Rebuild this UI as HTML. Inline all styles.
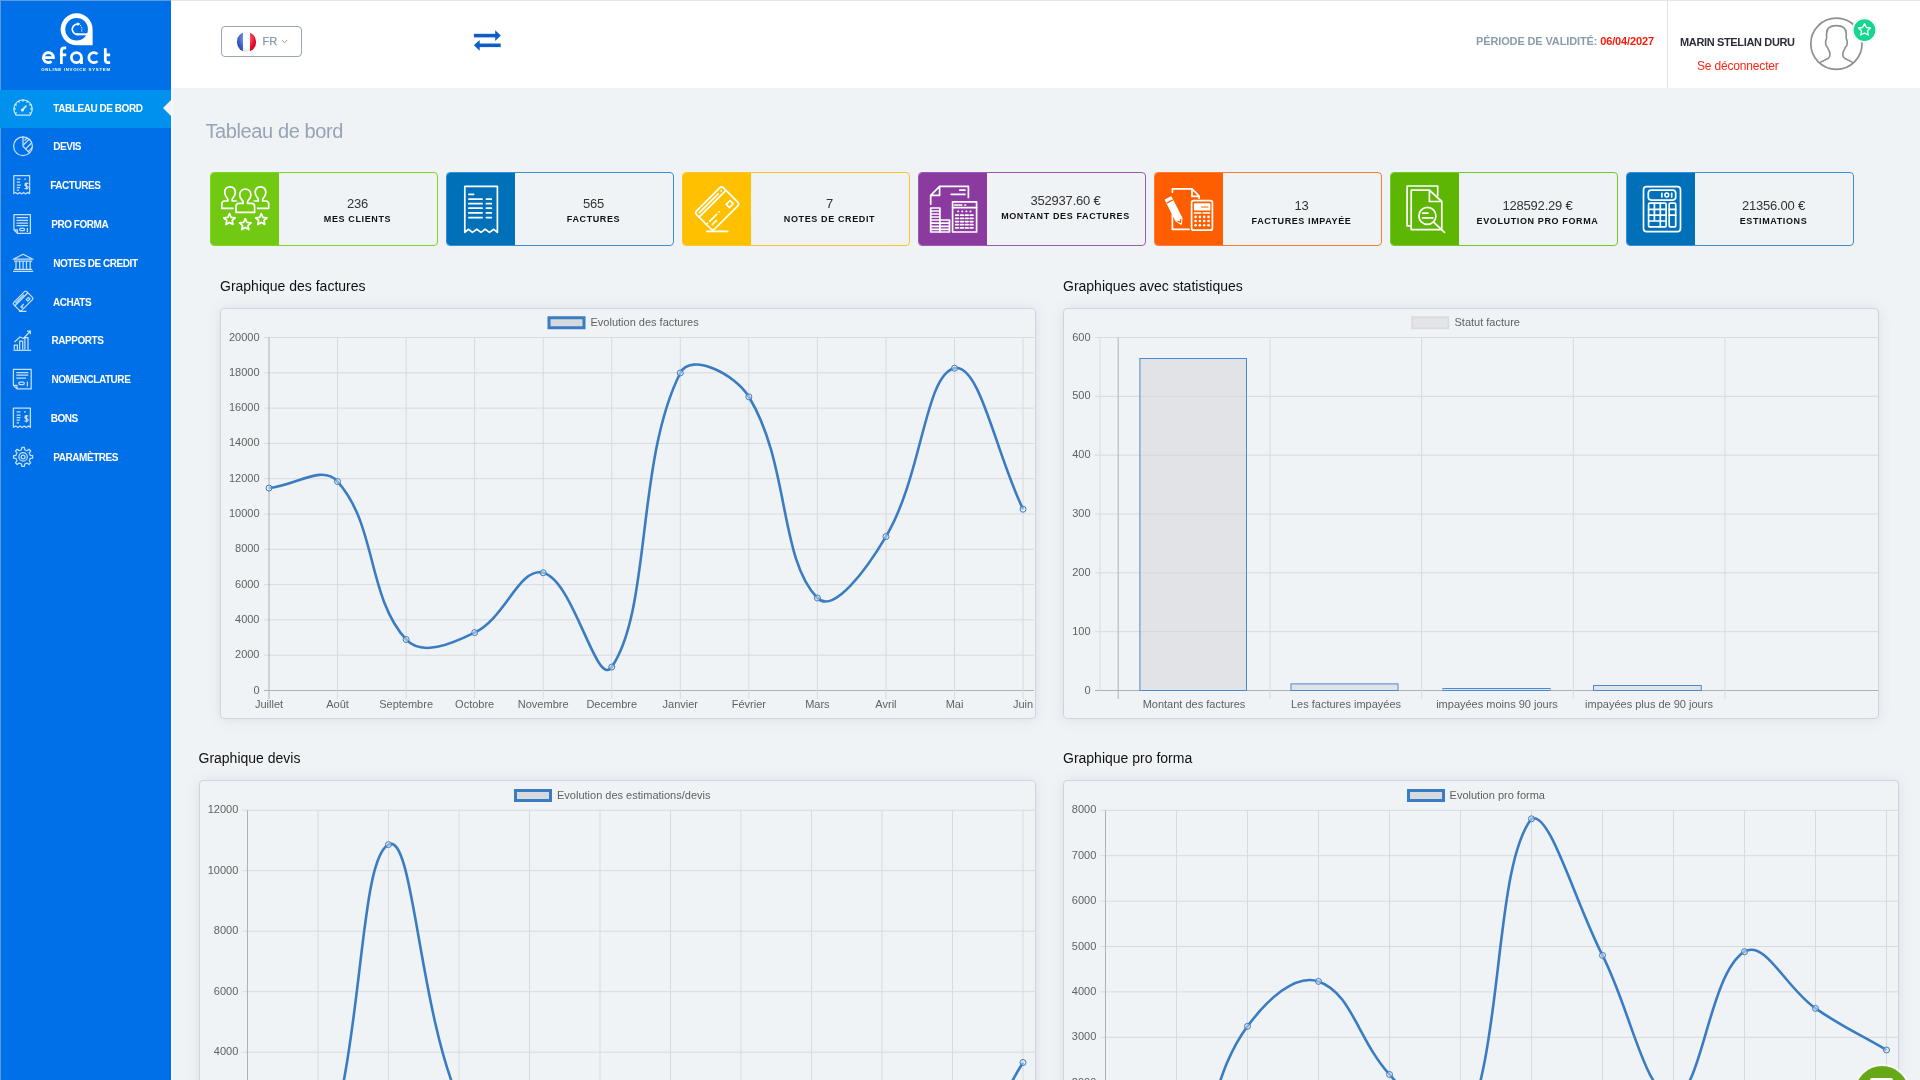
<!DOCTYPE html>
<html><head><meta charset="utf-8"><title>efact - Tableau de bord</title>
<style>
*{box-sizing:border-box}
html,body{margin:0;padding:0;width:1920px;height:1080px;overflow:hidden;background:#f0f3f6;font-family:'Liberation Sans', sans-serif}
.side{position:absolute;left:0;top:0;width:171px;height:1080px;background:#0070e8}
.sep{position:absolute;left:171px;top:88px;width:2px;height:992px;background:linear-gradient(90deg,#fbfcfd,#f3f5f8)}
.act{position:absolute;left:0;top:90px;width:171px;height:38px;background:#0091ee}
.arrow{position:absolute;left:163px;top:100px;width:0;height:0;border-top:8px solid transparent;border-bottom:8px solid transparent;border-right:8px solid #f0f3f6}
.mi{position:absolute;color:#fff;font-weight:bold;font-size:10px;line-height:12px;letter-spacing:-0.45px;white-space:nowrap}
.ic{position:absolute}
.hdr{position:absolute;left:171px;top:0;width:1749px;height:88px;background:#fff;border-top:1px solid #e6e6e6}
.vdiv{position:absolute;left:1667px;top:0;width:1px;height:88px;background:#e2e2e2}
.lang{position:absolute;left:221px;top:25.6px;width:81px;height:31.4px;border:1px solid #9aa6b2;border-radius:4px;background:#fff}
.title{position:absolute;left:205.5px;top:118.6px;font-size:20px;line-height:24px;color:#98a3b3;letter-spacing:-0.4px;white-space:nowrap}
.card{position:absolute;top:172px;width:228px;height:74px;border:1px solid;border-radius:4px;overflow:hidden;background:#f0f3f6}
.cic{position:absolute;left:-1px;top:-1px;width:69px;height:74px}
.cic svg{position:absolute;left:0;top:0}
.ctx{position:absolute;left:67px;right:0;top:0;bottom:0;text-align:center}
.num{position:absolute;left:0;right:0;font-size:13px;line-height:15px;color:#333;letter-spacing:-0.2px;white-space:nowrap}
.lab{position:absolute;left:0;right:0;font-size:9px;line-height:12px;font-weight:bold;color:#111;letter-spacing:0.62px;white-space:nowrap}
.h2{position:absolute;font-size:14px;line-height:16px;color:#111;white-space:nowrap}
.box{position:absolute;border:1px solid #cdd5e0;border-radius:4px;background:#f0f3f6;box-shadow:0 1px 14px rgba(40,60,90,0.10)}
.ov{position:absolute;left:0;top:0}
</style></head><body>
<div style="position:absolute;left:0;top:0;width:1920px;height:1080px;overflow:hidden;will-change:transform">
<div class="side"></div>
<div style="position:absolute;left:0;top:0;width:171px;height:1px;background:#5a9be0"></div>
<div style="position:absolute;left:0;top:0;width:1px;height:1080px;background:#5a9be0"></div>
<div class="act"></div>
<div class="arrow"></div>
<div class="sep"></div>
<svg class="ic" style="left:0;top:0" width="171" height="480" viewBox="0 0 171 480"><path d="M60.6 29.2 A16 16 0 0 1 92.6 29.2 V45.2 H76.6 A16 16 0 0 1 60.6 29.2 Z" fill="#fff"/>
<circle cx="76.6" cy="29.3" r="11.3" fill="#0070e8"/>
<rect x="76.5" y="33.3" width="12" height="2" fill="#fff"/>
<path d="M78.6 34.2 A5.1 5.1 0 1 1 78 24.2" fill="none" stroke="#fff" stroke-width="1.7"/>
<path d="M77.4 22.2 L80.4 24.1 L77.4 26.1 Z" fill="#fff"/>
<g fill="#fff"><circle cx="80.6" cy="25.6" r="0.55"/><circle cx="81.6" cy="27.3" r="0.55"/><circle cx="82" cy="29.1" r="0.55"/><circle cx="81.7" cy="30.9" r="0.55"/></g>
<g fill="none" stroke="#fff" stroke-width="2.75">
<path d="M43.4 57.6 H53.4 A5 5 0 1 0 51.6 61.4"/>
<path d="M61.4 64 V51 Q61.4 47.9 64.5 47.9 H66.2 M59.9 54.9 H66.2"/>
<circle cx="76.4" cy="57.6" r="5"/>
<path d="M81.5 57.6 V64"/>
<path d="M97.4 54.1 A5 5 0 1 0 97.4 61.1"/>
<path d="M105.3 48.2 V59.8 Q105.3 62.6 108.1 62.6 H110.1 M103.9 54.9 H110.1"/>
</g>
<text x="41.2" y="71" font-family="Liberation Sans" font-weight="bold" font-size="4.3" fill="#fff" textLength="68.8" lengthAdjust="spacing">ONLINE INVOICE SYSTEM</text><g stroke="rgba(255,255,255,0.78)" stroke-width="1.25" fill="none" stroke-linejoin="round">
<path d="M16.1 115.05 A9.2 9.2 0 1 1 30.0 115.05 Z"/>
<path d="M13.85 108.85 L15.85 108.85 M15.08 104.25 L16.81 105.25 M18.45 100.88 L19.45 102.61 M23.05 99.65 L23.05 101.65 M27.65 100.88 L26.65 102.61 M31.02 104.25 L29.29 105.25 M32.25 108.85 L30.25 108.85 M15.08 113.45 L16.81 112.45 M31.02 113.45 L29.29 112.45 "/>
<path d="M22.3 110.2 L25.9 106.2" stroke-width="1.9" stroke-linecap="round"/>
<circle cx="22.4" cy="110.1" r="1.5" fill="rgba(255,255,255,0.78)" stroke="none"/>
<circle cx="23" cy="146.2" r="9.4"/>
<path d="M23 136.8 V146.2 L29.65 152.85"/>
<path d="M24.5 140.5 L27 137.8 M23.6 144.8 L29.3 139 M26 148.6 L31.2 143.2 M28.4 151.6 L32.2 147.6"/>
<path d="M13.8 175.7 H29.6 V193.6 L27.6 192.4 L25.6 193.9 L23.6 192.4 L21.6 193.9 L19.6 192.4 L17.6 193.9 L15.6 192.4 L13.8 193.6 Z"/>
<path d="M16.8 179 H20.5 M24.4 179 H26 M16.8 182.2 H20 M16.8 185 H20.8 M16.8 187.7 H20 M16.8 190.2 H19"/>
<path d="M26.4 182.5 V189.5 M28 184 Q28 183.2 26.6 183.2 Q24.9 183.2 24.9 184.7 Q24.9 186 26.5 186 Q28.1 186 28.1 187.4 Q28.1 188.8 26.4 188.8 Q24.8 188.8 24.8 188"/>
<path d="M13.9 214.7 H30.4 V233.3 H17.4 L13.9 229.8 Z M13.9 229.8 H17.4 V233.3"/>
<path d="M16.5 217.6 H28 M16.5 220.4 H28 M16.5 223 H28 M16.5 225.6 H28"/>
<rect x="19.6" y="228.3" width="5" height="2.4" rx="1.2"/>
<path d="M27.4 228 V232"/>
<path d="M13.2 259.2 L23.1 254.3 L33 259.2 Z M14 261 H32.2 M14 269.4 H32.2 M13 271.4 H33.2"/>
<path d="M16 261.5 V268.8 M19.7 261.5 V268.8 M23.1 261.5 V268.8 M26.5 261.5 V268.8 M30.2 261.5 V268.8"/>
<g transform="translate(23.1 301) rotate(-45)">
<rect x="-9.2" y="-5.6" width="18.4" height="11.2" rx="1.6"/>
<path d="M-9.2 -2.4 H9.2 M-7 -4 H5 M3.2 1.2 h3.2 v2.2 h-3.2 Z M-6.4 2.6 H-1.6 M-6.4 4 h2.4"/>
</g>
<path d="M19 311.4 H26.5"/>
<path d="M13.6 350.3 H31.1"/>
<path d="M14.3 349.6 V345 H17.4 V349.6 M19.6 349.6 V341 H22.7 V349.6 M24.9 349.6 V337.5 H28 V349.6"/>
<path d="M14.5 342 L20 337 L23.5 338.5 L30 331.5"/>
<path d="M27 331.2 L30.4 331 L30.3 334.3"/>
<path d="M13.4 369.3 H31.2 V388.9 H17 L13.4 385.3 Z M13.4 385.3 H17 V388.9"/>
<path d="M16.3 372.5 H28.3 M16.3 375.2 H28.3 M16.3 378 H26"/>
<rect x="18.8" y="382" width="5.5" height="2.6" rx="1.3"/>
<path d="M27.4 381.5 V386.5"/>
<path d="M13.4 408.2 H30.4 V427.3 L28.4 426.1 L26.3 427.6 L24.2 426.1 L22.1 427.6 L20 426.1 L17.9 427.6 L15.8 426.1 L13.4 427.3 Z"/>
<path d="M16.6 411.8 H20.5 M24 411.8 H25.8 M16.6 415 H20.5 M16.6 417.6 H20.5 M16.6 420.2 H20 M16.6 422.8 H19"/>
<path d="M26.4 415 V422.5 M28 416.5 Q28 415.7 26.6 415.7 Q24.9 415.7 24.9 417.2 Q24.9 418.5 26.5 418.5 Q28.1 418.5 28.1 419.9 Q28.1 421.3 26.4 421.3 Q24.8 421.3 24.8 420.5"/>
<path d="M30.22 455.31 L32.62 455.66 L32.62 458.14 L30.22 458.49 L29.26 460.81 L30.71 462.75 L28.95 464.51 L27.01 463.06 L24.69 464.02 L24.34 466.42 L21.86 466.42 L21.51 464.02 L19.19 463.06 L17.25 464.51 L15.49 462.75 L16.94 460.81 L15.98 458.49 L13.58 458.14 L13.58 455.66 L15.98 455.31 L16.94 452.99 L15.49 451.05 L17.25 449.29 L19.19 450.74 L21.51 449.78 L21.86 447.38 L24.34 447.38 L24.69 449.78 L27.01 450.74 L28.95 449.29 L30.71 451.05 L29.26 452.99 Z"/>
<circle cx="23.1" cy="456.9" r="4.2"/>
<circle cx="23.1" cy="456.9" r="1.9"/>
</g></svg>
<div class="mi" style="left:53.3px;top:102.5px">TABLEAU DE BORD</div>
<div class="mi" style="left:53.3px;top:141.3px">DEVIS</div>
<div class="mi" style="left:50.2px;top:180.1px">FACTURES</div>
<div class="mi" style="left:51.2px;top:218.9px">PRO FORMA</div>
<div class="mi" style="left:53.2px;top:257.7px">NOTES DE CREDIT</div>
<div class="mi" style="left:52.9px;top:296.5px">ACHATS</div>
<div class="mi" style="left:51.5px;top:335.3px">RAPPORTS</div>
<div class="mi" style="left:51.5px;top:374.1px">NOMENCLATURE</div>
<div class="mi" style="left:50.7px;top:412.9px">BONS</div>
<div class="mi" style="left:53.3px;top:451.7px">PARAMÈTRES</div>

<div class="hdr"></div>
<div class="vdiv"></div>
<div class="lang">
 <div style="position:absolute;left:14.5px;top:5.5px;width:19.6px;height:19.6px;border-radius:50%;overflow:hidden;background:linear-gradient(90deg,#2a49b8 0,#3f64d6 33.5%,#fdfdfd 33.5%,#fff 66%,#ff1030 66%,#d0001c 100%)">
  <div style="position:absolute;inset:0;border-radius:50%;background:radial-gradient(circle at 50% 30%,rgba(255,255,255,0.45) 0,rgba(255,255,255,0.1) 45%,rgba(0,0,0,0) 60%,rgba(0,0,0,0.22) 100%)"></div>
 </div>
 <div style="position:absolute;left:40.5px;top:8.3px;font-size:11px;line-height:12px;color:#8797a5;-webkit-text-stroke:0.25px #8797a5">FR</div>
 <svg style="position:absolute;left:58.5px;top:12.5px" width="7" height="5" viewBox="0 0 7 5"><path d="M0.8 1 L3.5 3.7 L6.2 1" fill="none" stroke="#8a96a3" stroke-width="1"/></svg>
</div>
<svg class="ic" style="left:472px;top:28px" width="32" height="26" viewBox="0 0 32 26">
 <path d="M1.9 7.6 H24" stroke="#0d5fc7" stroke-width="3.6"/><path d="M23.2 2.2 L28.8 7.6 L23.2 13 Z" fill="#0d5fc7"/>
 <path d="M28.7 17.3 H7" stroke="#0d5fc7" stroke-width="3.6"/><path d="M7.7 11.9 L1.9 17.3 L7.7 22.7 Z" fill="#0d5fc7"/>
</svg>
<div style="position:absolute;left:1476px;top:35px;font-size:11px;line-height:12px;font-weight:bold;letter-spacing:-0.13px;white-space:nowrap;color:#8b9caa">PÉRIODE DE VALIDITÉ: <span style="color:#ff1a0a">06/04/2027</span></div>
<div style="position:absolute;left:1680px;top:35.6px;font-size:11px;line-height:12px;font-weight:bold;letter-spacing:-0.35px;white-space:nowrap;color:#2b2e3a">MARIN STELIAN DURU</div>
<div style="position:absolute;left:1697px;top:58.5px;font-size:12px;line-height:14px;letter-spacing:-0.17px;white-space:nowrap;color:#ff2414">Se déconnecter</div>
<svg class="ic" style="left:1800px;top:8px" width="90" height="72" viewBox="0 0 90 72"><circle cx="36.4" cy="35.7" r="25.6" fill="#fff" stroke="#8e8e8e" stroke-width="1.7"/>
<path d="M19.8 54.6 L28.3 50.2 Q29.9 49.3 29.9 47.3 V45.2 Q29.9 44.2 29.1 43 L27.6 39.6 Q26.9 38.3 26 37.6 Q25.6 36.5 25.6 34.2 Q25.6 31.6 26.6 30.6 V25.5 Q26.6 17.6 36.4 17.6 Q46.2 17.6 46.2 25.5 V30.6 Q47.2 31.6 47.2 34.2 Q47.2 36.5 46.8 37.6 Q45.9 38.3 45.2 39.6 L43.7 43 Q42.9 44.2 42.9 45.2 V47.3 Q42.9 49.3 44.5 50.2 L53 54.6" fill="none" stroke="#8e8e8e" stroke-width="1.6" stroke-linejoin="round"/>
<circle cx="64.5" cy="22.1" r="12.4" fill="#fff" stroke="#f0f0f3" stroke-width="0.8"/>
<circle cx="64.5" cy="22.1" r="10.9" fill="#14d68f"/>
<path d="M64.5 15.6 L66.4 19.5 L70.5 20 L67.5 22.9 L68.3 27 L64.5 25 L60.7 27 L61.5 22.9 L58.5 20 L62.6 19.5 Z" fill="none" stroke="#fff" stroke-width="1.3" stroke-linejoin="round"/></svg>
<div class="title">Tableau de bord</div>
<div class="card" style="left:210px;border-color:#7fd321">
<div class="cic" style="background:#72c912"><svg width="68" height="74" viewBox="0 0 68 74"><g stroke="#fff" stroke-width="1.7" fill="none" stroke-linecap="round" stroke-linejoin="round">
<path d="M17.8 29.0 V27.3 C17.8 26.1 14.7 24.3 14.7 20.6 C14.7 16.6 17.2 14.8 20 14.8 C22.8 14.8 25.3 16.6 25.3 20.6 C25.3 24.3 22.2 26.1 22.2 27.3 V29.0 H25.2 Q28.2 29.0 28.2 32.0 V36.3 H11.8 V32.0 Q11.8 29.0 14.8 29.0 Z"/>
<path d="M48.3 29.0 V27.3 C48.3 26.1 45.2 24.3 45.2 20.6 C45.2 16.6 47.7 14.8 50.5 14.8 C53.3 14.8 55.8 16.6 55.8 20.6 C55.8 24.3 52.7 26.1 52.7 27.3 V29.0 H55.7 Q58.7 29.0 58.7 32.0 V36.3 H42.3 V32.0 Q42.3 29.0 45.3 29.0 Z"/>
<path d="M33.099999999999994 31.4 V29.7 C33.099999999999994 28.5 29.699999999999996 26.7 29.699999999999996 23.0 C29.699999999999996 19.0 32.5 17.2 35.3 17.2 C38.099999999999994 17.2 40.9 19.0 40.9 23.0 C40.9 26.7 37.5 28.5 37.5 29.7 V31.4 H41.599999999999994 Q44.599999999999994 31.4 44.599999999999994 34.4 V40.4 H25.999999999999996 V34.4 Q25.999999999999996 31.4 28.999999999999996 31.4 Z" stroke="#72c912" stroke-width="4.6" fill="#72c912"/>
<path d="M33.099999999999994 31.4 V29.7 C33.099999999999994 28.5 29.699999999999996 26.7 29.699999999999996 23.0 C29.699999999999996 19.0 32.5 17.2 35.3 17.2 C38.099999999999994 17.2 40.9 19.0 40.9 23.0 C40.9 26.7 37.5 28.5 37.5 29.7 V31.4 H41.599999999999994 Q44.599999999999994 31.4 44.599999999999994 34.4 V40.4 H25.999999999999996 V34.4 Q25.999999999999996 31.4 28.999999999999996 31.4 Z"/>
<path d="M19.50 41.60 L21.15 45.33 L25.21 45.75 L22.16 48.47 L23.03 52.45 L19.50 50.40 L15.97 52.45 L16.84 48.47 L13.79 45.75 L17.85 45.33 Z"/>
<path d="M35.30 46.70 L36.95 50.43 L41.01 50.85 L37.96 53.57 L38.83 57.55 L35.30 55.50 L31.77 57.55 L32.64 53.57 L29.59 50.85 L33.65 50.43 Z"/>
<path d="M51.30 41.60 L52.95 45.33 L57.01 45.75 L53.96 48.47 L54.83 52.45 L51.30 50.40 L47.77 52.45 L48.64 48.47 L45.59 45.75 L49.65 45.33 Z"/>
</g></svg></div>
<div class="ctx"><div class="num" style="top:22.5px">236</div><div class="lab" style="top:39.5px">MES CLIENTS</div></div></div>
<div class="card" style="left:446px;border-color:#3a8fd4">
<div class="cic" style="background:#0071b8"><svg width="68" height="74" viewBox="0 0 68 74"><g stroke="#fff" stroke-width="1.7" fill="none" stroke-linecap="round" stroke-linejoin="round" stroke-width="1.9">
<path d="M18.8 60.4 V14.3 H51.4 V60.4 L47.8 57.3 L43.5 60.4 L39.2 57.3 L35 60.4 L30.8 57.3 L26.5 60.4 L22.3 57.3 Z" stroke-linecap="butt"/>
<path d="M22.9 22.3 H27.6 M22.9 27.1 H36.1 M22.9 31.7 H36.1 M22.9 36.2 H36.1 M22.9 40.9 H36.1 M22.9 45.6 H36.1 M40.4 27.1 H45.3 M40.4 31.7 H45.3 M40.4 36.2 H45.3 M40.4 40.9 H45.3 M40.4 45.6 H45.3"/>
</g></svg></div>
<div class="ctx"><div class="num" style="top:22.5px">565</div><div class="lab" style="top:39.5px">FACTURES</div></div></div>
<div class="card" style="left:682px;border-color:#fcc52a">
<div class="cic" style="background:#ffc000"><svg width="68" height="74" viewBox="0 0 68 74"><g stroke="#fff" stroke-width="1.7" fill="none" stroke-linecap="round" stroke-linejoin="round">
<g transform="translate(35.2 36.4) rotate(-45)">
<rect x="-19" y="-12.8" width="38" height="25.6" rx="3"/>
<path d="M-18.6 -6.6 H18.6 M-15.5 -9.6 H11 M15.2 -9.6 h0.1 M-14.2 3.8 H-4.5 M-17.6 3.8 h0.1 M-1.2 3.8 h0.1 M-14.8 8 H-9.4"/>
<rect x="9.2" y="3.6" width="5.4" height="4.4"/>
</g>
<path d="M24.8 59.4 H45.6"/>
</g></svg></div>
<div class="ctx"><div class="num" style="top:22.5px">7</div><div class="lab" style="top:39.5px">NOTES DE CREDIT</div></div></div>
<div class="card" style="left:918px;border-color:#9b59b6">
<div class="cic" style="background:#8b3aa0"><svg width="68" height="74" viewBox="0 0 68 74"><g stroke="#fff" stroke-width="1.7" fill="none" stroke-linecap="round" stroke-linejoin="round" stroke-width="1.6">
<path d="M12.7 32.2 V23.3 L21.6 14.4 H50.4 V25.4 M21.6 14.4 V23.3 H12.7"/>
<path d="M41.8 18.2 H47 M33.2 22.3 H47"/>
<path d="M12.7 36 H21.9 V60 H12.7 Z M12.7 39 H21.9 M12.7 42 H21.9 M12.7 45 H21.9 M12.7 48 H21.9 M12.7 51.2 H21.9 M12.7 54.4 H21.9 M12.7 57.3 H21.9"/>
<path d="M21.9 48 H31.5 V60 H21.9 M21.9 51.2 H31.5 M21.9 54.4 H31.5 M21.9 57.3 H31.5"/>
<rect x="34.6" y="29.8" width="24" height="30.2"/>
<path d="M34.6 35.6 H58.6 M36.6 33 H43.8 M47 33 h0.6"/>
<path d="M40 39.4 h0.4 M44.1 39.4 h0.4 M48.2 39.4 h0.4 M52.3 39.4 h0.4"/>
<path d="M37.7 43.2 h2.7 M42.6 43.2 h2.7 M47.4 43.2 h2.7 M52.2 43.2 h2.7 M37.7 46.4 h2.7 M42.6 46.4 h2.7 M47.4 46.4 h2.7 M52.2 46.4 h2.7 M37.7 49.6 h2.7 M42.6 49.6 h2.7 M47.4 49.6 h2.7 M52.2 49.6 h2.7 M37.7 52.7 h2.7 M42.6 52.7 h2.7 M47.4 52.7 h2.7 M52.2 52.7 h2.7 M37.7 55.9 h2.7 M42.6 55.9 h2.7 M47.4 55.9 h2.7 M52.2 55.9 h2.7"/>
</g></svg></div>
<div class="ctx"><div class="num" style="top:20px">352937.60 €</div><div class="lab" style="top:37.1px">MONTANT DES FACTURES</div></div></div>
<div class="card" style="left:1154px;border-color:#ff7a33">
<div class="cic" style="background:#ff5e00"><svg width="68" height="74" viewBox="0 0 68 74"><g stroke="#fff" stroke-width="1.7" fill="none" stroke-linecap="round" stroke-linejoin="round" stroke-width="1.7">
<path d="M18.4 20.2 V16.8 H38 L45.2 24 V26.2 M38 16.8 V24.4 H45.2"/>
<path d="M18.4 42.8 V57.4 H35"/>
<g transform="translate(20.4 38.6) rotate(-27)">
<path d="M-3 -13.5 H3 V10 L0 15 L-3 10 Z" fill="#fff"/>
<path d="M-3 -10.2 H3" stroke="#ff5e00" stroke-width="1.2"/>
<path d="M-1.6 11 L0 13.2 L1.6 11" stroke="#ff5e00" stroke-width="1.2"/>
</g>
<rect x="37.6" y="28.6" width="20.8" height="29.6" rx="2"/>
<rect x="40.8" y="32.2" width="14.7" height="5.5" fill="#fff"/>
<path d="M47.5 35 h6.5" stroke="#ff5e00" stroke-width="1.2" stroke-dasharray="1.2 0.7"/>
<path d="M40.6 41 H46.8 M49.2 41 H55.4"/>
<g fill="#fff" stroke="none">
<circle cx="41.6" cy="44.9" r="1.3"/><circle cx="45.9" cy="44.9" r="1.3"/><circle cx="50.2" cy="44.9" r="1.3"/><circle cx="54.5" cy="44.9" r="1.3"/>
<circle cx="41.6" cy="49" r="1.3"/><circle cx="45.9" cy="49" r="1.3"/><circle cx="50.2" cy="49" r="1.3"/><circle cx="54.5" cy="49" r="1.3"/>
<circle cx="41.6" cy="53.3" r="1.3"/><circle cx="45.9" cy="53.3" r="1.3"/><circle cx="50.2" cy="53.3" r="1.3"/><circle cx="54.5" cy="53.3" r="1.3"/>
</g>
</g></svg></div>
<div class="ctx"><div class="num" style="top:24.8px">13</div><div class="lab" style="top:41.9px">FACTURES IMPAYÉE</div></div></div>
<div class="card" style="left:1390px;border-color:#74c82a">
<div class="cic" style="background:#5db604"><svg width="68" height="74" viewBox="0 0 68 74"><g stroke="#fff" stroke-width="1.7" fill="none" stroke-linecap="round" stroke-linejoin="round" stroke-width="1.6" stroke-linecap="butt" stroke-linejoin="miter">
<path d="M20.6 53.9 H17.1 V14 H47.7 V23.6"/>
<path d="M21.2 18.1 H39.4 L51.8 29.5 V57.6 H21.2 Z M39.4 18.1 V29.5 H51.8"/>
<circle cx="37.4" cy="43.9" r="8.5"/>
<path d="M32.6 41.1 H38 M32.6 45.9 H42.8"/>
<path d="M43.6 50.2 L54.5 60.3" stroke-linecap="round"/>
</g></svg></div>
<div class="ctx"><div class="num" style="top:25px">128592.29 €</div><div class="lab" style="top:41.9px">EVOLUTION PRO FORMA</div></div></div>
<div class="card" style="left:1626px;border-color:#3a8fd4">
<div class="cic" style="background:#0071b8"><svg width="68" height="74" viewBox="0 0 68 74"><g stroke="#fff" stroke-width="1.7" fill="none" stroke-linecap="round" stroke-linejoin="round" stroke-width="1.5">
<rect x="17.5" y="14.7" width="37" height="44.9" rx="3.2"/>
<rect x="22.3" y="18.2" width="27.4" height="9.9" rx="3"/>
<path d="M35.9 21.2 V25.1 M45.7 21.2 V25.1" stroke-width="1.6"/>
<ellipse cx="40.8" cy="23.1" rx="1.9" ry="2" stroke-width="1.5"/>
<rect x="22.6" y="31.2" width="17.5" height="23.6" rx="1"/>
<path d="M22.6 37.3 H40.1 M22.6 43.2 H40.1 M22.6 49 H40.1 M28.4 31.2 V49 M34.3 31.2 V54.8"/>
<rect x="43.2" y="31.2" width="6.5" height="23.6" rx="1"/>
<path d="M43.2 37.3 H49.7 M43.2 43.2 H49.7"/>
</g></svg></div>
<div class="ctx"><div class="num" style="top:25px">21356.00 €</div><div class="lab" style="top:41.9px">ESTIMATIONS</div></div></div>

<div class="h2" style="left:220px;top:278px">Graphique des factures</div>
<div class="h2" style="left:1063px;top:278px">Graphiques avec statistiques</div>
<div class="h2" style="left:198.5px;top:750px">Graphique devis</div>
<div class="h2" style="left:1063px;top:750px">Graphique pro forma</div>
<div class="box" style="left:220px;top:308px;width:815.5px;height:410.5px"></div>
<div class="box" style="left:1063px;top:308px;width:815.5px;height:410.5px"></div>
<div class="box" style="left:198.5px;top:780px;width:837px;height:410px"></div>
<div class="box" style="left:1062.8px;top:780px;width:836.5px;height:410px"></div>
<svg class="ov" width="1920" height="1080" viewBox="0 0 1920 1080" font-family="'Liberation Sans', sans-serif">
<line x1="264" y1="690.5" x2="1034" y2="690.5" stroke="#adb0b4" stroke-width="1"/>
<text x="259.5" y="693.5" text-anchor="end" font-size="11" fill="#616161">0</text>
<line x1="264" y1="655.2" x2="1034" y2="655.2" stroke="#d7dade" stroke-width="1"/>
<text x="259.5" y="658.2" text-anchor="end" font-size="11" fill="#616161">2000</text>
<line x1="264" y1="619.9" x2="1034" y2="619.9" stroke="#d7dade" stroke-width="1"/>
<text x="259.5" y="622.9" text-anchor="end" font-size="11" fill="#616161">4000</text>
<line x1="264" y1="584.6" x2="1034" y2="584.6" stroke="#d7dade" stroke-width="1"/>
<text x="259.5" y="587.6" text-anchor="end" font-size="11" fill="#616161">6000</text>
<line x1="264" y1="549.3" x2="1034" y2="549.3" stroke="#d7dade" stroke-width="1"/>
<text x="259.5" y="552.3" text-anchor="end" font-size="11" fill="#616161">8000</text>
<line x1="264" y1="514.0" x2="1034" y2="514.0" stroke="#d7dade" stroke-width="1"/>
<text x="259.5" y="517.0" text-anchor="end" font-size="11" fill="#616161">10000</text>
<line x1="264" y1="478.70000000000005" x2="1034" y2="478.70000000000005" stroke="#d7dade" stroke-width="1"/>
<text x="259.5" y="481.70000000000005" text-anchor="end" font-size="11" fill="#616161">12000</text>
<line x1="264" y1="443.40000000000003" x2="1034" y2="443.40000000000003" stroke="#d7dade" stroke-width="1"/>
<text x="259.5" y="446.40000000000003" text-anchor="end" font-size="11" fill="#616161">14000</text>
<line x1="264" y1="408.1" x2="1034" y2="408.1" stroke="#d7dade" stroke-width="1"/>
<text x="259.5" y="411.1" text-anchor="end" font-size="11" fill="#616161">16000</text>
<line x1="264" y1="372.8" x2="1034" y2="372.8" stroke="#d7dade" stroke-width="1"/>
<text x="259.5" y="375.8" text-anchor="end" font-size="11" fill="#616161">18000</text>
<line x1="264" y1="337.5" x2="1034" y2="337.5" stroke="#d7dade" stroke-width="1"/>
<text x="259.5" y="340.5" text-anchor="end" font-size="11" fill="#616161">20000</text>
<line x1="269.0" y1="337.5" x2="269.0" y2="699.0" stroke="#adb0b4" stroke-width="1"/>
<text x="269.0" y="708" text-anchor="middle" font-size="11" fill="#616161">Juillet</text>
<line x1="337.55" y1="337.5" x2="337.55" y2="699.0" stroke="#d7dade" stroke-width="1"/>
<text x="337.55" y="708" text-anchor="middle" font-size="11" fill="#616161">Août</text>
<line x1="406.1" y1="337.5" x2="406.1" y2="699.0" stroke="#d7dade" stroke-width="1"/>
<text x="406.1" y="708" text-anchor="middle" font-size="11" fill="#616161">Septembre</text>
<line x1="474.65" y1="337.5" x2="474.65" y2="699.0" stroke="#d7dade" stroke-width="1"/>
<text x="474.65" y="708" text-anchor="middle" font-size="11" fill="#616161">Octobre</text>
<line x1="543.2" y1="337.5" x2="543.2" y2="699.0" stroke="#d7dade" stroke-width="1"/>
<text x="543.2" y="708" text-anchor="middle" font-size="11" fill="#616161">Novembre</text>
<line x1="611.75" y1="337.5" x2="611.75" y2="699.0" stroke="#d7dade" stroke-width="1"/>
<text x="611.75" y="708" text-anchor="middle" font-size="11" fill="#616161">Decembre</text>
<line x1="680.3" y1="337.5" x2="680.3" y2="699.0" stroke="#d7dade" stroke-width="1"/>
<text x="680.3" y="708" text-anchor="middle" font-size="11" fill="#616161">Janvier</text>
<line x1="748.8499999999999" y1="337.5" x2="748.8499999999999" y2="699.0" stroke="#d7dade" stroke-width="1"/>
<text x="748.8499999999999" y="708" text-anchor="middle" font-size="11" fill="#616161">Février</text>
<line x1="817.4" y1="337.5" x2="817.4" y2="699.0" stroke="#d7dade" stroke-width="1"/>
<text x="817.4" y="708" text-anchor="middle" font-size="11" fill="#616161">Mars</text>
<line x1="885.9499999999999" y1="337.5" x2="885.9499999999999" y2="699.0" stroke="#d7dade" stroke-width="1"/>
<text x="885.9499999999999" y="708" text-anchor="middle" font-size="11" fill="#616161">Avril</text>
<line x1="954.5" y1="337.5" x2="954.5" y2="699.0" stroke="#d7dade" stroke-width="1"/>
<text x="954.5" y="708" text-anchor="middle" font-size="11" fill="#616161">Mai</text>
<line x1="1023.05" y1="337.5" x2="1023.05" y2="699.0" stroke="#d7dade" stroke-width="1"/>
<text x="1023.05" y="708" text-anchor="middle" font-size="11" fill="#616161">Juin</text>
<path d="M269.00 488.05 C296.42 485.44 321.88 464.22 337.55 481.52 C376.72 524.80 366.93 596.33 406.10 639.49 C421.77 656.76 451.02 644.11 474.65 632.61 C505.86 617.42 519.16 566.74 543.20 572.77 C574.00 580.51 596.48 689.28 611.75 667.03 C651.32 609.36 636.09 460.12 680.30 372.98 C690.93 352.03 734.89 373.89 748.85 396.80 C789.73 463.91 779.13 558.99 817.40 598.01 C833.97 614.91 867.52 567.49 885.95 536.59 C922.36 475.57 925.06 374.09 954.50 368.21 C979.90 363.14 995.63 452.83 1023.05 509.23" fill="none" stroke="#3a7cc2" stroke-width="2.6"/>
<circle cx="269.00" cy="488.05" r="3" fill="rgba(225,230,236,0.5)" stroke="#3a7cc2" stroke-width="1"/>
<circle cx="337.55" cy="481.52" r="3" fill="rgba(225,230,236,0.5)" stroke="#3a7cc2" stroke-width="1"/>
<circle cx="406.10" cy="639.49" r="3" fill="rgba(225,230,236,0.5)" stroke="#3a7cc2" stroke-width="1"/>
<circle cx="474.65" cy="632.61" r="3" fill="rgba(225,230,236,0.5)" stroke="#3a7cc2" stroke-width="1"/>
<circle cx="543.20" cy="572.77" r="3" fill="rgba(225,230,236,0.5)" stroke="#3a7cc2" stroke-width="1"/>
<circle cx="611.75" cy="667.03" r="3" fill="rgba(225,230,236,0.5)" stroke="#3a7cc2" stroke-width="1"/>
<circle cx="680.30" cy="372.98" r="3" fill="rgba(225,230,236,0.5)" stroke="#3a7cc2" stroke-width="1"/>
<circle cx="748.85" cy="396.80" r="3" fill="rgba(225,230,236,0.5)" stroke="#3a7cc2" stroke-width="1"/>
<circle cx="817.40" cy="598.01" r="3" fill="rgba(225,230,236,0.5)" stroke="#3a7cc2" stroke-width="1"/>
<circle cx="885.95" cy="536.59" r="3" fill="rgba(225,230,236,0.5)" stroke="#3a7cc2" stroke-width="1"/>
<circle cx="954.50" cy="368.21" r="3" fill="rgba(225,230,236,0.5)" stroke="#3a7cc2" stroke-width="1"/>
<circle cx="1023.05" cy="509.23" r="3" fill="rgba(225,230,236,0.5)" stroke="#3a7cc2" stroke-width="1"/>
<rect x="549.0" y="317.75" width="35" height="10" fill="#d6d9dd" stroke="#3a7cc2" stroke-width="3"/>
<text x="590.5" y="325.85" text-anchor="start" font-size="11" fill="#616161">Evolution des factures</text>
<line x1="1095" y1="690.5" x2="1878" y2="690.5" stroke="#adb0b4" stroke-width="1"/>
<text x="1090.5" y="693.5" text-anchor="end" font-size="11" fill="#616161">0</text>
<line x1="1095" y1="631.67" x2="1878" y2="631.67" stroke="#d7dade" stroke-width="1"/>
<text x="1090.5" y="634.67" text-anchor="end" font-size="11" fill="#616161">100</text>
<line x1="1095" y1="572.84" x2="1878" y2="572.84" stroke="#d7dade" stroke-width="1"/>
<text x="1090.5" y="575.84" text-anchor="end" font-size="11" fill="#616161">200</text>
<line x1="1095" y1="514.01" x2="1878" y2="514.01" stroke="#d7dade" stroke-width="1"/>
<text x="1090.5" y="517.01" text-anchor="end" font-size="11" fill="#616161">300</text>
<line x1="1095" y1="455.18" x2="1878" y2="455.18" stroke="#d7dade" stroke-width="1"/>
<text x="1090.5" y="458.18" text-anchor="end" font-size="11" fill="#616161">400</text>
<line x1="1095" y1="396.35" x2="1878" y2="396.35" stroke="#d7dade" stroke-width="1"/>
<text x="1090.5" y="399.35" text-anchor="end" font-size="11" fill="#616161">500</text>
<line x1="1095" y1="337.52" x2="1878" y2="337.52" stroke="#d7dade" stroke-width="1"/>
<text x="1090.5" y="340.52" text-anchor="end" font-size="11" fill="#616161">600</text>
<line x1="1100" y1="337.5" x2="1100" y2="690.5" stroke="#d7dade" stroke-width="1"/>
<line x1="1118.2" y1="337.5" x2="1118.2" y2="699" stroke="#adb0b4" stroke-width="1"/>
<line x1="1270" y1="337.5" x2="1270" y2="699" stroke="#d7dade" stroke-width="1"/>
<line x1="1421.7" y1="337.5" x2="1421.7" y2="699" stroke="#d7dade" stroke-width="1"/>
<line x1="1573.3" y1="337.5" x2="1573.3" y2="699" stroke="#d7dade" stroke-width="1"/>
<line x1="1725" y1="337.5" x2="1725" y2="699" stroke="#d7dade" stroke-width="1"/>
<rect x="1139.9" y="358.5" width="106.59999999999991" height="332.0" fill="rgba(212,211,213,0.5)" stroke="#4a8ad0" stroke-width="1"/>
<rect x="1291.0" y="683.9" width="107.0" height="6.600000000000023" fill="rgba(212,211,213,0.5)" stroke="#4a8ad0" stroke-width="1"/>
<rect x="1443.0" y="688.5" width="107.0" height="2.0" fill="rgba(212,211,213,0.5)" stroke="#4a8ad0" stroke-width="1"/>
<rect x="1593.5" y="685.5" width="107.75" height="5.0" fill="rgba(212,211,213,0.5)" stroke="#4a8ad0" stroke-width="1"/>
<text x="1194" y="708" text-anchor="middle" font-size="11" fill="#616161">Montant des factures</text>
<text x="1346" y="708" text-anchor="middle" font-size="11" fill="#616161">Les factures impayées</text>
<text x="1497" y="708" text-anchor="middle" font-size="11" fill="#616161">impayées moins 90 jours</text>
<text x="1649" y="708" text-anchor="middle" font-size="11" fill="#616161">impayées plus de 90 jours</text>
<rect x="1412.25" y="317.25" width="36" height="11" fill="#e5e5e7" stroke="#dcdcde" stroke-width="2"/>
<text x="1454.5" y="325.85" text-anchor="start" font-size="11" fill="#616161">Statut facture</text>
<line x1="242.5" y1="1052.2" x2="1035" y2="1052.2" stroke="#d7dade" stroke-width="1"/>
<text x="238.3" y="1055.2" text-anchor="end" font-size="11" fill="#616161">4000</text>
<line x1="242.5" y1="991.7" x2="1035" y2="991.7" stroke="#d7dade" stroke-width="1"/>
<text x="238.3" y="994.7" text-anchor="end" font-size="11" fill="#616161">6000</text>
<line x1="242.5" y1="931.2" x2="1035" y2="931.2" stroke="#d7dade" stroke-width="1"/>
<text x="238.3" y="934.2" text-anchor="end" font-size="11" fill="#616161">8000</text>
<line x1="242.5" y1="870.7" x2="1035" y2="870.7" stroke="#d7dade" stroke-width="1"/>
<text x="238.3" y="873.7" text-anchor="end" font-size="11" fill="#616161">10000</text>
<line x1="242.5" y1="810.2" x2="1035" y2="810.2" stroke="#d7dade" stroke-width="1"/>
<text x="238.3" y="813.2" text-anchor="end" font-size="11" fill="#616161">12000</text>
<line x1="247.5" y1="810.2" x2="247.5" y2="1181.7" stroke="#adb0b4" stroke-width="1"/>
<line x1="318.0" y1="810.2" x2="318.0" y2="1181.7" stroke="#d7dade" stroke-width="1"/>
<line x1="388.5" y1="810.2" x2="388.5" y2="1181.7" stroke="#d7dade" stroke-width="1"/>
<line x1="459.0" y1="810.2" x2="459.0" y2="1181.7" stroke="#d7dade" stroke-width="1"/>
<line x1="529.5" y1="810.2" x2="529.5" y2="1181.7" stroke="#d7dade" stroke-width="1"/>
<line x1="600.0" y1="810.2" x2="600.0" y2="1181.7" stroke="#d7dade" stroke-width="1"/>
<line x1="670.5" y1="810.2" x2="670.5" y2="1181.7" stroke="#d7dade" stroke-width="1"/>
<line x1="741.0" y1="810.2" x2="741.0" y2="1181.7" stroke="#d7dade" stroke-width="1"/>
<line x1="811.5" y1="810.2" x2="811.5" y2="1181.7" stroke="#d7dade" stroke-width="1"/>
<line x1="882.0" y1="810.2" x2="882.0" y2="1181.7" stroke="#d7dade" stroke-width="1"/>
<line x1="952.5" y1="810.2" x2="952.5" y2="1181.7" stroke="#d7dade" stroke-width="1"/>
<line x1="1023.0" y1="810.2" x2="1023.0" y2="1181.7" stroke="#d7dade" stroke-width="1"/>
<path d="M247.50 1173.20 C275.70 1173.20 308.22 1173.20 318.00 1173.20 C364.62 1064.55 356.99 860.82 388.50 844.59 C413.39 831.78 418.16 1005.43 459.00 1100.60 C474.56 1136.87 496.26 1156.08 529.50 1173.20 C552.66 1173.20 571.80 1173.20 600.00 1173.20 C628.20 1173.20 642.30 1173.20 670.50 1173.20 C698.70 1173.20 712.80 1173.20 741.00 1173.20 C769.20 1173.20 783.30 1173.20 811.50 1173.20 C839.70 1173.20 853.80 1173.20 882.00 1173.20 C910.20 1173.20 932.79 1173.20 952.50 1173.20 C989.19 1144.39 994.80 1106.77 1023.00 1062.49" fill="none" stroke="#3a7cc2" stroke-width="2.6"/>
<circle cx="247.50" cy="1173.20" r="3" fill="rgba(225,230,236,0.5)" stroke="#3a7cc2" stroke-width="1"/>
<circle cx="318.00" cy="1173.20" r="3" fill="rgba(225,230,236,0.5)" stroke="#3a7cc2" stroke-width="1"/>
<circle cx="388.50" cy="844.59" r="3" fill="rgba(225,230,236,0.5)" stroke="#3a7cc2" stroke-width="1"/>
<circle cx="459.00" cy="1100.60" r="3" fill="rgba(225,230,236,0.5)" stroke="#3a7cc2" stroke-width="1"/>
<circle cx="529.50" cy="1173.20" r="3" fill="rgba(225,230,236,0.5)" stroke="#3a7cc2" stroke-width="1"/>
<circle cx="600.00" cy="1173.20" r="3" fill="rgba(225,230,236,0.5)" stroke="#3a7cc2" stroke-width="1"/>
<circle cx="670.50" cy="1173.20" r="3" fill="rgba(225,230,236,0.5)" stroke="#3a7cc2" stroke-width="1"/>
<circle cx="741.00" cy="1173.20" r="3" fill="rgba(225,230,236,0.5)" stroke="#3a7cc2" stroke-width="1"/>
<circle cx="811.50" cy="1173.20" r="3" fill="rgba(225,230,236,0.5)" stroke="#3a7cc2" stroke-width="1"/>
<circle cx="882.00" cy="1173.20" r="3" fill="rgba(225,230,236,0.5)" stroke="#3a7cc2" stroke-width="1"/>
<circle cx="952.50" cy="1173.20" r="3" fill="rgba(225,230,236,0.5)" stroke="#3a7cc2" stroke-width="1"/>
<circle cx="1023.00" cy="1062.49" r="3" fill="rgba(225,230,236,0.5)" stroke="#3a7cc2" stroke-width="1"/>
<rect x="515.5" y="790.5" width="35" height="10" fill="#d6d9dd" stroke="#3a7cc2" stroke-width="3"/>
<text x="557" y="798.6" text-anchor="start" font-size="11" fill="#616161">Evolution des estimations/devis</text>
<line x1="1100.5" y1="1082.7" x2="1898" y2="1082.7" stroke="#d7dade" stroke-width="1"/>
<text x="1096.3" y="1085.7" text-anchor="end" font-size="11" fill="#616161">2000</text>
<line x1="1100.5" y1="1037.3" x2="1898" y2="1037.3" stroke="#d7dade" stroke-width="1"/>
<text x="1096.3" y="1040.3" text-anchor="end" font-size="11" fill="#616161">3000</text>
<line x1="1100.5" y1="991.9" x2="1898" y2="991.9" stroke="#d7dade" stroke-width="1"/>
<text x="1096.3" y="994.9" text-anchor="end" font-size="11" fill="#616161">4000</text>
<line x1="1100.5" y1="946.5" x2="1898" y2="946.5" stroke="#d7dade" stroke-width="1"/>
<text x="1096.3" y="949.5" text-anchor="end" font-size="11" fill="#616161">5000</text>
<line x1="1100.5" y1="901.1" x2="1898" y2="901.1" stroke="#d7dade" stroke-width="1"/>
<text x="1096.3" y="904.1" text-anchor="end" font-size="11" fill="#616161">6000</text>
<line x1="1100.5" y1="855.7" x2="1898" y2="855.7" stroke="#d7dade" stroke-width="1"/>
<text x="1096.3" y="858.7" text-anchor="end" font-size="11" fill="#616161">7000</text>
<line x1="1100.5" y1="810.3" x2="1898" y2="810.3" stroke="#d7dade" stroke-width="1"/>
<text x="1096.3" y="813.3" text-anchor="end" font-size="11" fill="#616161">8000</text>
<line x1="1105.5" y1="810.3" x2="1105.5" y2="1182.0" stroke="#adb0b4" stroke-width="1"/>
<line x1="1176.5" y1="810.3" x2="1176.5" y2="1182.0" stroke="#d7dade" stroke-width="1"/>
<line x1="1247.5" y1="810.3" x2="1247.5" y2="1182.0" stroke="#d7dade" stroke-width="1"/>
<line x1="1318.5" y1="810.3" x2="1318.5" y2="1182.0" stroke="#d7dade" stroke-width="1"/>
<line x1="1389.5" y1="810.3" x2="1389.5" y2="1182.0" stroke="#d7dade" stroke-width="1"/>
<line x1="1460.5" y1="810.3" x2="1460.5" y2="1182.0" stroke="#d7dade" stroke-width="1"/>
<line x1="1531.5" y1="810.3" x2="1531.5" y2="1182.0" stroke="#d7dade" stroke-width="1"/>
<line x1="1602.5" y1="810.3" x2="1602.5" y2="1182.0" stroke="#d7dade" stroke-width="1"/>
<line x1="1673.5" y1="810.3" x2="1673.5" y2="1182.0" stroke="#d7dade" stroke-width="1"/>
<line x1="1744.5" y1="810.3" x2="1744.5" y2="1182.0" stroke="#d7dade" stroke-width="1"/>
<line x1="1815.5" y1="810.3" x2="1815.5" y2="1182.0" stroke="#d7dade" stroke-width="1"/>
<line x1="1886.5" y1="810.3" x2="1886.5" y2="1182.0" stroke="#d7dade" stroke-width="1"/>
<path d="M1105.50 1173.50 C1133.90 1173.50 1159.30 1173.50 1176.50 1173.50 C1216.10 1132.46 1209.99 1077.06 1247.50 1026.31 C1266.79 1000.23 1294.77 973.36 1318.50 981.41 C1351.57 992.63 1358.10 1040.04 1389.50 1074.48 C1414.90 1102.35 1447.72 1160.20 1460.50 1137.18 C1504.52 1057.92 1492.91 868.19 1531.50 818.79 C1549.71 810.30 1574.45 900.58 1602.50 955.40 C1631.25 1011.59 1645.39 1097.05 1673.50 1096.32 C1702.19 1095.58 1708.18 974.21 1744.50 951.72 C1764.98 939.04 1785.70 987.75 1815.50 1008.38 C1842.50 1027.07 1858.10 1033.36 1886.50 1050.01" fill="none" stroke="#3a7cc2" stroke-width="2.6"/>
<circle cx="1105.50" cy="1173.50" r="3" fill="rgba(225,230,236,0.5)" stroke="#3a7cc2" stroke-width="1"/>
<circle cx="1176.50" cy="1173.50" r="3" fill="rgba(225,230,236,0.5)" stroke="#3a7cc2" stroke-width="1"/>
<circle cx="1247.50" cy="1026.31" r="3" fill="rgba(225,230,236,0.5)" stroke="#3a7cc2" stroke-width="1"/>
<circle cx="1318.50" cy="981.41" r="3" fill="rgba(225,230,236,0.5)" stroke="#3a7cc2" stroke-width="1"/>
<circle cx="1389.50" cy="1074.48" r="3" fill="rgba(225,230,236,0.5)" stroke="#3a7cc2" stroke-width="1"/>
<circle cx="1460.50" cy="1137.18" r="3" fill="rgba(225,230,236,0.5)" stroke="#3a7cc2" stroke-width="1"/>
<circle cx="1531.50" cy="818.79" r="3" fill="rgba(225,230,236,0.5)" stroke="#3a7cc2" stroke-width="1"/>
<circle cx="1602.50" cy="955.40" r="3" fill="rgba(225,230,236,0.5)" stroke="#3a7cc2" stroke-width="1"/>
<circle cx="1673.50" cy="1096.32" r="3" fill="rgba(225,230,236,0.5)" stroke="#3a7cc2" stroke-width="1"/>
<circle cx="1744.50" cy="951.72" r="3" fill="rgba(225,230,236,0.5)" stroke="#3a7cc2" stroke-width="1"/>
<circle cx="1815.50" cy="1008.38" r="3" fill="rgba(225,230,236,0.5)" stroke="#3a7cc2" stroke-width="1"/>
<circle cx="1886.50" cy="1050.01" r="3" fill="rgba(225,230,236,0.5)" stroke="#3a7cc2" stroke-width="1"/>
<rect x="1408.5" y="790.5" width="35" height="10" fill="#d6d9dd" stroke="#3a7cc2" stroke-width="3"/>
<text x="1449.6" y="798.6" text-anchor="start" font-size="11" fill="#616161">Evolution pro forma</text>
</svg>
<div style="position:absolute;left:1854.5px;top:1066px;width:54px;height:54px;border-radius:50%;background:#66a818;box-shadow:0 0 0 2px rgba(255,255,255,0.6)"></div>
<div style="position:absolute;left:1870px;top:1078px;width:23px;height:10px;background:#fff;border-radius:2px"></div>
</div>
</body></html>
